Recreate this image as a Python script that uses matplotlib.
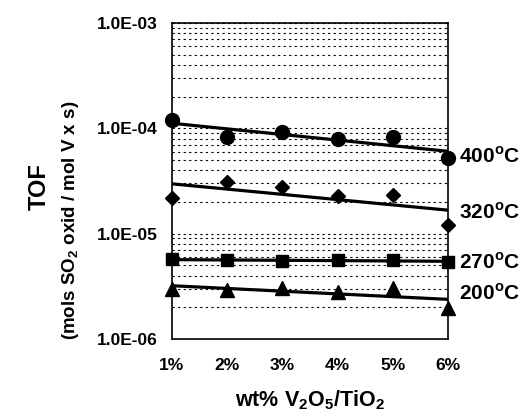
import numpy as np
import matplotlib
matplotlib.use("Agg")
from matplotlib import pyplot as plt
from matplotlib.ticker import LogLocator, FixedLocator

plt.rcParams['font.family'] = ['Liberation Sans', 'DejaVu Sans']
plt.rcParams['font.weight'] = 'bold'

loading = [1, 2, 3, 4, 5, 6]
tick_labels = ["1%", "2%", "3%", "4%", "5%", "6%"]
tof_400 = [1.19e-4, 8.2e-5, 9.3e-5, 8.0e-5, 8.2e-5, 5.2e-5]
tof_320 = [2.2e-5, 3.07e-5, 2.8e-5, 2.3e-5, 2.35e-5, 1.2e-5]
tof_270 = [5.7e-6, 5.6e-6, 5.5e-6, 5.6e-6, 5.6e-6, 5.4e-6]
tof_200 = [3.0e-6, 2.9e-6, 3.05e-6, 2.8e-6, 3.05e-6, 1.95e-6]
temps = ["400", "320", "270", "200"]

series = [(tof_400, 'o', 10), (tof_320, 'D', 7.5), (tof_270, 's', 9), (tof_200, '^', 10)]
label_y = [5.4e-5, 1.6e-5, 5.3e-6, 2.7e-6]

fig = plt.figure(figsize=(5.3, 4.19), dpi=100)
ax = fig.add_axes([0.3245, 0.191, 0.5208, 0.754])

x = np.array(loading, dtype=float)
for (vals, mk, ms), t, ly in zip(series, temps, label_y):
    ax.plot(x, vals, linestyle='none', marker=mk, markersize=ms, color='black', clip_on=False, zorder=4)
    # exponential trendline
    k, b = np.polyfit(x, np.log10(vals), 1)
    ax.plot(x, 10 ** (k * x + b), color='black', lw=2.3, zorder=3)
    ax.text(6.2, ly, t + "$^{\\mathregular{o}}$C", fontsize=15, fontweight='bold', va='center', ha='left')

ax.set_yscale('log')
ax.set_ylim(1e-6, 1e-3)
ax.set_xlim(1, 6)
ax.yaxis.set_major_locator(FixedLocator([1e-6, 1e-5, 1e-4, 1e-3]))
ax.set_yticklabels(["1.0E-06", "1.0E-05", "1.0E-04", "1.0E-03"])
ax.yaxis.set_minor_locator(LogLocator(base=10, subs=np.arange(2, 10)))
ax.yaxis.set_minor_formatter(plt.NullFormatter())
ax.set_xticks(loading)
ax.set_xticklabels(tick_labels)
ax.grid(which='both', axis='y', color='black', linestyle=(0, (2, 3)), lw=0.8)
ax.tick_params(which='both', length=0, labelsize=12.5, pad=10)
ax.tick_params(axis='x', pad=14)
for s in ax.spines.values():
    s.set_linewidth(1.2)

ax.set_xlabel("wt% V$_\\mathregular{2}$O$_\\mathregular{5}$/TiO$_\\mathregular{2}$", fontsize=15.5, fontweight='bold', labelpad=11)
fig.text(0.075, 0.555, "TOF", rotation=90, fontsize=17, fontweight='bold', ha='center', va='center')
fig.text(0.133, 0.475, "(mols SO$_\\mathregular{2}$ oxid / mol V x s)", rotation=90, fontsize=13.5, fontweight='bold', ha='center', va='center')

fig.savefig("out.png", dpi=100)
